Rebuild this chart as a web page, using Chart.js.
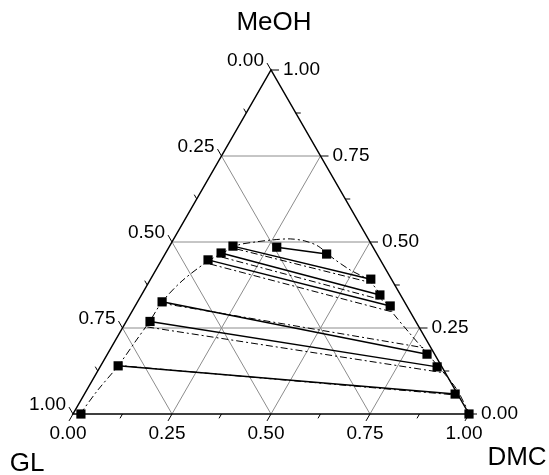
<!DOCTYPE html>
<html>
<head>
	<title>MeOH - GL - DMC</title>
	<script src="https://cdn.jsdelivr.net/npm/chart.js@4"></script>
	<style>
		body { margin: 0; background: #fff; }
	</style>
</head>
<body>
	<canvas id="chart" width="549" height="475"></canvas>

	<script type="text/javascript">
		// mass fractions, [MeOH, DMC] (GL = 1 - MeOH - DMC)
		var expLeftMeOH  = [0.000, 0.140, 0.269, 0.326, 0.448, 0.468, 0.488, 0.485];
		var expLeftDMC   = [0.020, 0.044, 0.060, 0.062, 0.117, 0.140, 0.160, 0.272];
		var expRightMeOH = [0.000, 0.058, 0.137, 0.174, 0.314, 0.346, 0.392, 0.465];
		var expRightDMC  = [1.000, 0.936, 0.851, 0.807, 0.644, 0.602, 0.556, 0.408];

		// calculated tie lines (dash-dot)
		var calcLeftMeOH  = [0.142, 0.253, 0.323, 0.436, 0.456, 0.480];
		var calcLeftDMC   = [0.035, 0.061, 0.058, 0.128, 0.148, 0.172];
		var calcRightMeOH = [0.055, 0.119, 0.192, 0.297, 0.331, 0.384];
		var calcRightDMC  = [0.942, 0.882, 0.793, 0.657, 0.617, 0.553];

		// binodal curve (dash-dot)
		var binMeOH = [0.000, 0.070, 0.140, 0.209, 0.270, 0.326, 0.387, 0.445, 0.465, 0.491, 0.500, 0.506, 0.509,
		               0.503, 0.488, 0.453, 0.419, 0.390, 0.349, 0.297, 0.233, 0.177, 0.116, 0.070, 0.009];
		var binDMC  = [0.018, 0.028, 0.044, 0.052, 0.059, 0.062, 0.082, 0.119, 0.141, 0.171, 0.210, 0.250, 0.294,
		               0.334, 0.375, 0.430, 0.490, 0.550, 0.601, 0.657, 0.735, 0.805, 0.881, 0.935, 0.993];

		var tickValues = [0, 0.25, 0.5, 0.75, 1];
		var tickLabels = ['0.00', '0.25', '0.50', '0.75', '1.00'];

		var H = Math.sqrt(3) / 2;
		function toXY(m, d) { return { x: d + m / 2, y: m * H }; }

		var datasets = [];
		// markers on top
		var marks = [];
		for (var i = 0; i < expLeftMeOH.length; i++) {
			marks.push(toXY(expLeftMeOH[i], expLeftDMC[i]));
			marks.push(toXY(expRightMeOH[i], expRightDMC[i]));
		}
		datasets.push({
			data: marks, showLine: false, pointStyle: 'rect', pointRadius: 6.5,
			backgroundColor: '#000', borderColor: '#000', borderWidth: 0, clip: false
		});
		// experimental tie lines
		for (var i = 1; i < expLeftMeOH.length; i++) {
			datasets.push({
				data: [toXY(expLeftMeOH[i], expLeftDMC[i]), toXY(expRightMeOH[i], expRightDMC[i])],
				showLine: true, pointRadius: 0, borderColor: '#000', borderWidth: 1.5, clip: false
			});
		}
		// calculated tie lines
		for (var i = 0; i < calcLeftMeOH.length; i++) {
			datasets.push({
				data: [toXY(calcLeftMeOH[i], calcLeftDMC[i]), toXY(calcRightMeOH[i], calcRightDMC[i])],
				showLine: true, pointRadius: 0, borderColor: '#000', borderWidth: 1,
				borderDash: [7, 3, 2, 3], clip: false
			});
		}
		var bin = [];
		for (var i = 0; i < binMeOH.length; i++) bin.push(toXY(binMeOH[i], binDMC[i]));
		datasets.push({
			data: bin, showLine: true, pointRadius: 0, borderColor: '#000', borderWidth: 1,
			borderDash: [7, 3, 2, 3], tension: 0.3, clip: false
		});

		var ternaryFrame = {
			id: 'ternaryFrame',
			beforeDatasetsDraw: function (chart) {
				var c = chart.ctx, xs = chart.scales.x, ys = chart.scales.y;
				function px(m, d) { return [xs.getPixelForValue(d + m / 2), ys.getPixelForValue(m * H)]; }
				function seg(a, b) { c.beginPath(); c.moveTo(a[0], a[1]); c.lineTo(b[0], b[1]); c.stroke(); }
				c.save();
				// grid
				c.strokeStyle = '#8c8c8c';
				c.lineWidth = 1;
				[0.25, 0.5, 0.75].forEach(function (v) {
					seg(px(v, 0), px(v, 1 - v));
					seg(px(0, v), px(1 - v, v));
					seg(px(0, 1 - v), px(1 - v, 0));
				});
				// frame
				c.strokeStyle = '#000';
				c.lineWidth = 1.5;
				var A = px(0, 0), B = px(0, 1), T = px(1, 0);
				c.beginPath(); c.moveTo(A[0], A[1]); c.lineTo(B[0], B[1]); c.lineTo(T[0], T[1]); c.closePath(); c.stroke();
				// ticks
				c.lineWidth = 1;
				for (var k = 0; k <= 8; k++) {
					var v = k / 8, len = (k % 2 == 0) ? 8 : 5;
					var p = px(0, v);           // bottom: DMC
					seg(p, [p[0] - 0.5 * len, p[1] + H * len]);
					p = px(1 - v, 0);           // left: GL
					seg(p, [p[0] - 0.5 * len, p[1] - H * len]);
					p = px(v, 1 - v);           // right: MeOH
					seg(p, [p[0] + len, p[1]]);
				}
				// tick labels
				c.fillStyle = '#000';
				c.font = '19px "Liberation Sans", Arial, sans-serif';
				c.textBaseline = 'middle';
				for (var k = 0; k < tickValues.length; k++) {
					var v = tickValues[k];
					var p = px(0, v);
					c.textAlign = 'center';
					c.fillText(tickLabels[k], p[0] - 5, p[1] + 20);
					p = px(1 - v, 0);
					c.textAlign = 'right';
					c.fillText(tickLabels[k], p[0] - 7, p[1] - 9);
					p = px(v, 1 - v);
					c.textAlign = 'left';
					c.fillText(tickLabels[k], p[0] + 12, p[1]);
				}
				// corner titles
				c.font = '26px "Liberation Sans", Arial, sans-serif';
				c.textAlign = 'center';
				c.fillText('MeOH', 274, 23);
				c.fillText('GL', 27, 464);
				c.fillText('DMC', 517, 458);
				c.restore();
			}
		};

		var config = {
			type: 'scatter',
			data: { datasets: datasets },
			options: {
				responsive: false,
				animation: false,
				layout: { padding: { left: 73, right: 80, top: 70, bottom: 61 } },
				scales: {
					x: { type: 'linear', min: 0, max: 1, display: false },
					y: { type: 'linear', min: 0, max: H, display: false }
				},
				plugins: { legend: { display: false }, tooltip: { enabled: false } }
			},
			plugins: [ternaryFrame]
		};

		var ctx = document.getElementById('chart').getContext('2d');
		var chart = new Chart(ctx, config);
	</script>
</body>
</html>
